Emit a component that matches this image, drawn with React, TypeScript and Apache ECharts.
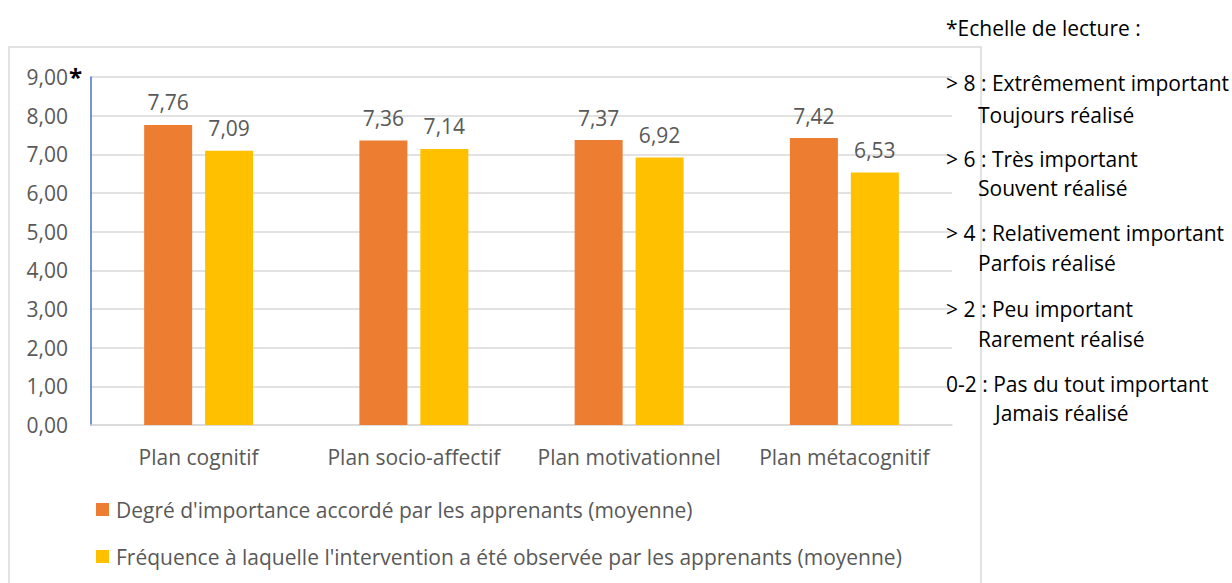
import React, { useEffect, useRef } from "react";
import * as echarts from "echarts";

const categories = ["Plan cognitif", "Plan socio-affectif", "Plan motivationnel", "Plan métacognitif"];
const importanceValues = [7.76, 7.36, 7.37, 7.42];
const frequencyValues = [7.09, 7.14, 6.92, 6.53];
const seriesNames = [
  "Degré d'importance accordé par les apprenants (moyenne)",
  "Fréquence à laquelle l'intervention a été observée par les apprenants (moyenne)",
];
const yMin = 0;
const yMax = 9;
const yInterval = 1;
const scaleTitle = "*Echelle de lecture :";
const scaleLines = [
  { head: "> 8 : Extrêmement important", sub: "Toujours réalisé" },
  { head: "> 6 : Très important", sub: "Souvent réalisé" },
  { head: "> 4 : Relativement important", sub: "Parfois réalisé" },
  { head: "> 2 : Peu important", sub: "Rarement réalisé" },
  { head: "0-2 : Pas du tout important", sub: "Jamais réalisé" },
];

const FONT = "'Open Sans'";
const GREY = "#595959";
const FS = 21;

export default function App() {
  const ref = useRef<HTMLDivElement>(null);
  useEffect(() => {
    if (!ref.current) return;
    const chart = echarts.init(ref.current, undefined, { renderer: "svg" });
    const headY = [83, 159, 233, 309, 384];
    const subY = [115, 188, 263, 339, 413];
    const subX = [978, 978, 978, 978, 995];
    const rightTexts: any[] = [];
    rightTexts.push({
      type: "text",
      x: 946,
      y: 28,
      style: { text: scaleTitle, font: `${FS}px ${FONT}`, fill: "#000", verticalAlign: "middle" },
    });
    scaleLines.forEach((l, i) => {
      rightTexts.push({
        type: "text",
        x: 946,
        y: headY[i],
        style: { text: l.head, font: `${FS}px ${FONT}`, fill: "#000", verticalAlign: "middle" },
        z: 10,
      });
      rightTexts.push({
        type: "text",
        x: subX[i],
        y: subY[i],
        style: { text: l.sub, font: `${FS}px ${FONT}`, fill: "#000", verticalAlign: "middle" },
        z: 10,
      });
    });
    const labelFmt = (p: any) => p.value.toFixed(2).replace(".", ",");
    chart.setOption({
      animation: false,
      textStyle: { fontFamily: FONT },
      grid: { left: 91, right: 280, top: 77, bottom: 158, containLabel: false },
      legend: {
        orient: "vertical",
        left: 96,
        top: 498,
        padding: 0,
        itemWidth: 13,
        itemHeight: 13,
        itemGap: 24,
        icon: "rect",
        textStyle: { fontSize: FS, color: GREY, fontFamily: FONT, lineHeight: 23, padding: [0, 0, 0, 2] },
        data: seriesNames,
      },
      xAxis: {
        type: "category",
        data: categories,
        axisLine: { lineStyle: { color: "#D9D9D9", width: 1.5 } },
        axisTick: { show: false },
        axisLabel: { color: GREY, fontSize: FS, fontFamily: FONT, margin: 21, interval: 0 },
      },
      yAxis: {
        type: "value",
        min: yMin,
        max: yMax,
        interval: yInterval,
        axisLine: { show: true, lineStyle: { color: "#4472C4", width: 1.5 } },
        axisTick: { show: false },
        splitLine: { lineStyle: { color: "#D9D9D9", width: 1.5 } },
        axisLabel: {
          color: GREY,
          fontSize: FS,
          fontFamily: FONT,
          margin: 23,
          formatter: (v: number) => v.toFixed(2).replace(".", ","),
        },
      },
      series: [
        {
          name: seriesNames[0],
          type: "bar",
          data: importanceValues,
          barWidth: 48,
          barGap: "27%",
          itemStyle: { color: "#ED7D31" },
          label: { show: true, position: "top", distance: 12, color: GREY, fontSize: FS, fontFamily: FONT, formatter: labelFmt },
        },
        {
          name: seriesNames[1],
          type: "bar",
          data: frequencyValues,
          barWidth: 48,
          barGap: "27%",
          itemStyle: { color: "#FFC000" },
          label: { show: true, position: "top", distance: 12, color: GREY, fontSize: FS, fontFamily: FONT, formatter: labelFmt },
        },
      ],
      graphic: [
        {
          type: "rect",
          shape: { x: 9, y: 47, width: 972, height: 560 },
          style: { fill: "none", stroke: "#D9D9D9", lineWidth: 1.5 },
          z: -1,
          silent: true,
        },
        {
          type: "text",
          x: 69,
          y: 76,
          style: { text: "*", font: `bold 24px ${FONT}`, fill: "#000", verticalAlign: "middle" },
        },
        ...rightTexts,
      ],
    });
    return () => chart.dispose();
  }, []);
  return (
    <div
      ref={ref}
      style={{ position: "fixed", left: 0, top: 0, width: 1232, height: 583, background: "#fff" }}
    />
  );
}
